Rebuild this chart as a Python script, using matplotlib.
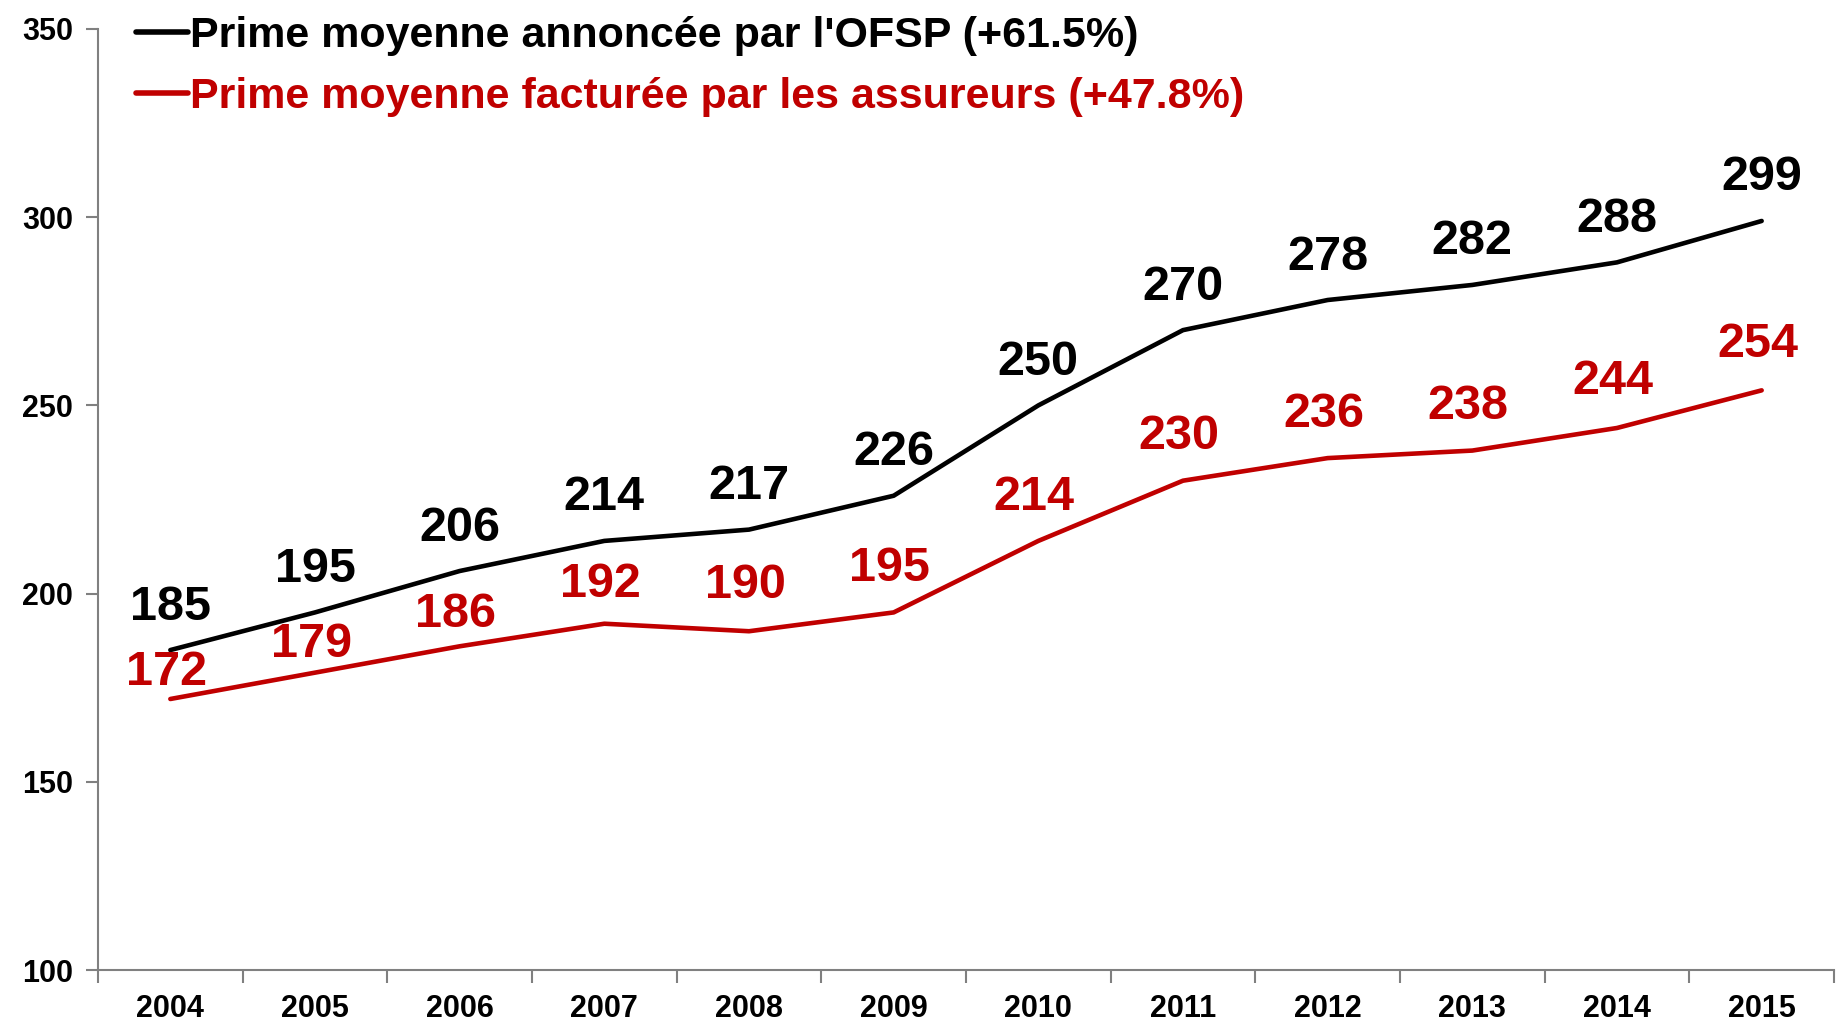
import matplotlib
matplotlib.use("Agg")
import matplotlib.pyplot as plt
import numpy as np

plt.rcParams["font.family"] = ["Liberation Sans", "DejaVu Sans"]
plt.rcParams["font.weight"] = "bold"

YEARS = ["2004", "2005", "2006", "2007", "2008", "2009",
         "2010", "2011", "2012", "2013", "2014", "2015"]
OFSP = [185, 195, 206, 214, 217, 226, 250, 270, 278, 282, 288, 299]
ASSUREURS = [172, 179, 186, 192, 190, 195, 214, 230, 236, 238, 244, 254]
LABEL_OFSP = "Prime moyenne annoncée par l'OFSP (+61.5%)"
LABEL_ASSUREURS = "Prime moyenne facturée par les assureurs (+47.8%)"

BLACK = "#000000"
RED = "#C00000"
GREY = "#808080"

# vertical offset (px) of the value labels; the first red ones sit lower
black_offsets = [43] * len(OFSP)
red_offsets = [26, 28, 32, 39, 46, 44, 43, 44, 44, 44, 46, 46]

fig = plt.figure(figsize=(18.36, 10.22), dpi=100)
ax = fig.add_axes([98 / 1836, 52 / 1022, 1736 / 1836, 941 / 1022])

x = np.arange(len(YEARS))
ax.plot(x, OFSP, color=BLACK, lw=3.3, solid_capstyle="round", label=LABEL_OFSP)
ax.plot(x, ASSUREURS, color=RED, lw=3.3, solid_capstyle="round", label=LABEL_ASSUREURS)

for xi, v, off in zip(x, OFSP, black_offsets):
    ax.annotate(str(v), (xi, v), xytext=(0, off), textcoords="offset pixels",
                ha="center", va="center", fontsize=35, fontweight="bold", color=BLACK)
for xi, v, off in zip(x, ASSUREURS, red_offsets):
    ax.annotate(str(v), (xi, v), xytext=(-4, off), textcoords="offset pixels",
                ha="center", va="center", fontsize=35, fontweight="bold", color=RED)

ax.set_xlim(-0.5, len(YEARS) - 0.5)
ax.set_ylim(100, 350)
ax.set_yticks([100, 150, 200, 250, 300, 350])
ax.set_xticks(np.arange(len(YEARS) + 1) - 0.5)
ax.set_xticklabels([])
ax.set_xticks(x, minor=True)
ax.set_xticklabels(YEARS, minor=True)
ax.tick_params(axis="x", which="minor", length=0, pad=17, labelsize=22)
ax.tick_params(axis="x", which="major", length=9, width=1.5, color=GREY, direction="out")
ax.tick_params(axis="y", length=9, width=1.5, color=GREY, pad=9, labelsize=22)
for lbl in ax.get_xticklabels(minor=True) + ax.get_yticklabels():
    lbl.set_fontweight("bold")

for side in ["top", "right"]:
    ax.spines[side].set_visible(False)
for side in ["left", "bottom"]:
    ax.spines[side].set_color(GREY)
    ax.spines[side].set_linewidth(1.5)

leg = ax.legend(loc="upper left", bbox_to_anchor=(0.012, 1.032), frameon=False,
                handlelength=1.2, handletextpad=0.05, labelspacing=0.48,
                borderaxespad=0, prop={"size": 31, "weight": "bold"})
for text, color in zip(leg.get_texts(), [BLACK, RED]):
    text.set_color(color)
for line in leg.get_lines():
    line.set_linewidth(4)

fig.savefig("out.png", dpi=100)
